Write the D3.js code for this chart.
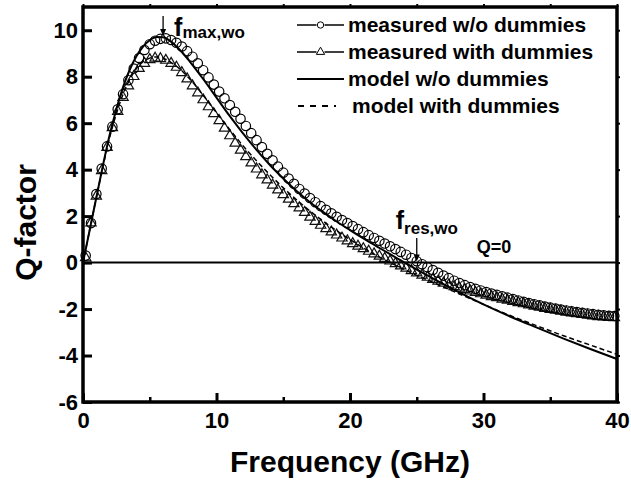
<!DOCTYPE html>
<html>
<head>
<meta charset="utf-8">
<script src="https://cdn.jsdelivr.net/npm/d3@7"></script>
<style>
  html, body { margin: 0; padding: 0; background: #fff; }
  svg { display: block; }
  text { font-family: "Liberation Sans", Arial, sans-serif; font-weight: bold; fill: #000; }
</style>
</head>
<body>
<svg id="chart" width="631" height="484"></svg>
<script>
// Measured sweep: 0.2 GHz to 39.8 GHz in 0.4 GHz steps
const sweepStart = 0.2, sweepStep = 0.4, sweepCount = 100;
const measuredFreq = d3.range(sweepCount).map(i => +(sweepStart + i * sweepStep).toFixed(2));

// Measured Q-factor without dummies (circles)
const qMeasuredWo = [
  0.3, 1.7, 2.95, 4.05, 5.0, 5.85, 6.6, 7.25, 7.85, 8.35,
  8.8, 9.15, 9.4, 9.55, 9.63, 9.65, 9.58, 9.46, 9.3, 9.1,
  8.86, 8.58, 8.28, 7.97, 7.66, 7.36, 7.07, 6.78, 6.49, 6.19,
  5.88, 5.57, 5.27, 4.97, 4.68, 4.4, 4.13, 3.87, 3.62, 3.39,
  3.17, 2.97, 2.78, 2.6, 2.43, 2.27, 2.12, 1.97, 1.83, 1.7,
  1.57, 1.44, 1.31, 1.18, 1.06, 0.94, 0.82, 0.7, 0.58, 0.46,
  0.34, 0.2, 0.06, -0.07, -0.2, -0.32, -0.44, -0.56, -0.67, -0.78,
  -0.88, -0.97, -1.05, -1.13, -1.2, -1.27, -1.33, -1.39, -1.45, -1.51,
  -1.57, -1.63, -1.69, -1.74, -1.79, -1.84, -1.89, -1.94, -1.98, -2.02,
  -2.06, -2.1, -2.13, -2.16, -2.19, -2.22, -2.25, -2.27, -2.29, -2.3
];

// Measured Q-factor with dummies (triangles)
const qMeasuredWith = [
  0.25, 1.75, 2.9, 4.0, 5.0, 5.85, 6.55, 7.15, 7.65, 8.05,
  8.4, 8.62, 8.78, 8.84, 8.82, 8.75, 8.62, 8.45, 8.22, 7.95,
  7.65, 7.35, 7.05, 6.75, 6.45, 6.15, 5.83, 5.5, 5.18, 4.88,
  4.6, 4.33, 4.07, 3.82, 3.6, 3.38, 3.17, 2.97, 2.77, 2.58,
  2.4, 2.2, 2.0, 1.82, 1.65, 1.5, 1.36, 1.23, 1.1, 0.98,
  0.86, 0.75, 0.64, 0.53, 0.42, 0.32, 0.22, 0.11, 0.0, -0.1,
  -0.2, -0.3, -0.4, -0.5, -0.59, -0.68, -0.76, -0.84, -0.92, -0.99,
  -1.06, -1.12, -1.18, -1.24, -1.3, -1.36, -1.42, -1.47, -1.53, -1.58,
  -1.63, -1.68, -1.73, -1.78, -1.83, -1.88, -1.93, -1.97, -2.01, -2.05,
  -2.09, -2.12, -2.16, -2.19, -2.22, -2.25, -2.28, -2.3, -2.32, -2.33
];

// Model curves
const modelFreq = [0, 0.5, 1, 1.5, 2, 2.5, 3, 3.5, 4, 4.5, 5, 5.5, 6, 6.5, 7, 7.5, 8,
  9, 10, 11, 12, 13, 14, 15, 16, 17, 18, 19, 20, 21, 22, 23, 24, 25, 26, 27, 28, 29, 30,
  32, 34, 36, 38, 40];
const qModelWo = [0, 1.4, 2.8, 4.2, 5.5, 6.6, 7.55, 8.3, 8.88, 9.3, 9.57, 9.71, 9.7, 9.55, 9.3, 9.0, 8.65,
  7.9, 7.1, 6.3, 5.55, 4.85, 4.2, 3.62, 3.08, 2.6, 2.17, 1.77, 1.4, 1.04, 0.7, 0.36, 0.03, -0.3, -0.62, -0.93, -1.23, -1.52, -1.8,
  -2.32, -2.8, -3.27, -3.72, -4.15];
const qModelWith = [0, 1.4, 2.8, 4.15, 5.4, 6.4, 7.25, 7.88, 8.35, 8.65, 8.8, 8.85, 8.8, 8.65, 8.45, 8.2, 7.9,
  7.2, 6.45, 5.72, 5.02, 4.38, 3.78, 3.22, 2.7, 2.22, 1.78, 1.37, 0.99, 0.63, 0.3, 0.0, -0.28, -0.55, -0.8, -1.05, -1.3, -1.55, -1.8,
  -2.28, -2.72, -3.15, -3.55, -3.95];

// Axis ticks
const xMajorTicks = [0, 10, 20, 30, 40];
const xMinorTicks = [5, 15, 25, 35];
const yMajorTicks = [-6, -4, -2, 0, 2, 4, 6, 8, 10];

const legendLabels = ["measured w/o dummies", "measured with dummies", "model w/o dummies", "model with dummies"];

const plot = { left: 83, right: 617, top: 7, bottom: 402 };
const x = d3.scaleLinear().domain([0, 40]).range([plot.left, plot.right]);
const y = d3.scaleLinear().domain([-6, 11]).range([plot.bottom, plot.top]);

const svg = d3.select("#chart");

// Horizontal reference line at Q = 0
svg.append("line")
  .attr("x1", x(0)).attr("x2", x(40))
  .attr("y1", y(0)).attr("y2", y(0))
  .attr("stroke", "#000").attr("stroke-width", 2);

const line = d3.line().x(d => x(d[0])).y(d => y(d[1])).curve(d3.curveMonotoneX);

// Measured markers
const gMarkers = svg.append("g");
const circlePts = measuredFreq.map((f, i) => [f, qMeasuredWo[i]]);
const trianglePts = measuredFreq.map((f, i) => [f, qMeasuredWith[i]]);
const tri = d3.symbol().type(d3.symbolTriangle).size(46);

gMarkers.selectAll("path.tri").data(trianglePts).join("path")
  .attr("class", "tri")
  .attr("d", tri)
  .attr("transform", d => `translate(${x(d[0])},${y(d[1]) + 1})`)
  .attr("fill", "none").attr("stroke", "#111").attr("stroke-width", 1.2);

gMarkers.selectAll("circle").data(circlePts).join("circle")
  .attr("cx", d => x(d[0])).attr("cy", d => y(d[1])).attr("r", 4.7)
  .attr("fill", "none").attr("stroke", "#000").attr("stroke-width", 1.2);

// Model lines
svg.append("path")
  .datum(modelFreq.map((f, i) => [f, qModelWith[i]]))
  .attr("d", line).attr("fill", "none")
  .attr("stroke", "#000").attr("stroke-width", 1.5).attr("stroke-dasharray", "5,3");

svg.append("path")
  .datum(modelFreq.map((f, i) => [f, qModelWo[i]]))
  .attr("d", line).attr("fill", "none")
  .attr("stroke", "#000").attr("stroke-width", 2);

// Axes with inward ticks; labels use a plain hyphen for negatives
const plainLabel = d => String(d);
const axisFont = g => g.selectAll("text").style("font-size", "22px").style("font-family", "'Liberation Sans', Arial, sans-serif").style("font-weight", "bold");

svg.append("g").attr("transform", `translate(0,${plot.bottom})`)
  .call(d3.axisBottom(x).tickValues(xMinorTicks).tickSize(-5).tickFormat(""))
  .call(g => g.select(".domain").remove())
  .call(g => g.selectAll("line").attr("stroke-width", 2.5));

svg.append("g").attr("transform", `translate(0,${plot.bottom})`)
  .call(d3.axisBottom(x).tickValues(xMajorTicks).tickSize(-9).tickPadding(10).tickFormat(plainLabel))
  .call(g => g.select(".domain").remove())
  .call(g => g.selectAll("line").attr("stroke-width", 3))
  .call(axisFont);

svg.append("g").attr("transform", `translate(${plot.left},0)`)
  .call(d3.axisLeft(y).tickValues(yMajorTicks).tickSize(-9).tickPadding(5).tickFormat(plainLabel))
  .call(g => g.select(".domain").remove())
  .call(g => g.selectAll("line").attr("stroke-width", 3))
  .call(axisFont);

// Small outward ticks on the top and right edges
svg.append("g").attr("transform", `translate(0,${plot.top})`)
  .call(d3.axisTop(x).tickValues(xMajorTicks.concat(xMinorTicks)).tickSize(3).tickFormat(""))
  .call(g => g.select(".domain").remove())
  .call(g => g.selectAll("line").attr("stroke-width", 2));

svg.append("g").attr("transform", `translate(${plot.right},0)`)
  .call(d3.axisRight(y).tickValues(yMajorTicks).tickSize(3).tickFormat(""))
  .call(g => g.select(".domain").remove())
  .call(g => g.selectAll("line").attr("stroke-width", 2));

// Frame
svg.append("rect")
  .attr("x", plot.left).attr("y", plot.top)
  .attr("width", plot.right - plot.left).attr("height", plot.bottom - plot.top)
  .attr("fill", "none").attr("stroke", "#000").attr("stroke-width", 3.5);

// Axis titles
svg.append("text")
  .attr("x", (plot.left + plot.right) / 2).attr("y", 472)
  .attr("text-anchor", "middle").style("font-size", "30px")
  .text("Frequency (GHz)");

svg.append("text")
  .attr("transform", `translate(36,${(plot.top + plot.bottom) / 2 + 18}) rotate(-90)`)
  .attr("text-anchor", "middle").style("font-size", "30px")
  .text("Q-factor");

// Annotations
function arrowDown(xp, y1, y2) {
  svg.append("line").attr("x1", xp).attr("x2", xp).attr("y1", y1).attr("y2", y2 - 5)
    .attr("stroke", "#000").attr("stroke-width", 1.3);
  svg.append("path")
    .attr("d", `M${xp - 3},${y2 - 7} L${xp + 3},${y2 - 7} L${xp},${y2} Z`)
    .attr("fill", "#000");
}
const fMaxWo = 6.0, fResWo = 25.0;
arrowDown(x(fMaxWo), 16, y(9.75));
const tMax = svg.append("text").attr("x", x(fMaxWo) + 11).attr("y", 36).style("font-size", "25px");
tMax.append("tspan").text("f");
tMax.append("tspan").attr("dy", 2).style("font-size", "17px").text("max,wo");

arrowDown(x(fResWo), 238, y(0) - 1);
const tRes = svg.append("text").attr("x", x(fResWo) - 21).attr("y", 229).style("font-size", "25px");
tRes.append("tspan").text("f");
tRes.append("tspan").attr("dy", 5).style("font-size", "17px").text("res,wo");

svg.append("text").attr("x", 494).attr("y", 253).attr("text-anchor", "middle")
  .style("font-size", "18px").text("Q=0");

// Legend
const legend = svg.append("g");
const rowY = [25, 52, 79, 106];
const lx0 = 297, lx1 = 344, ltext = 348;
rowY.forEach((ry, i) => {
  if (i === 3) {
    legend.append("line").attr("x1", lx0 + 1).attr("x2", lx1 - 8).attr("y1", ry).attr("y2", ry)
      .attr("stroke", "#000").attr("stroke-width", 2).attr("stroke-dasharray", "6,6");
  } else if (i === 2) {
    legend.append("line").attr("x1", lx0).attr("x2", lx1).attr("y1", ry).attr("y2", ry)
      .attr("stroke", "#000").attr("stroke-width", 2);
  } else {
    legend.append("line").attr("x1", lx0).attr("x2", (lx0 + lx1) / 2 - 4).attr("y1", ry).attr("y2", ry)
      .attr("stroke", "#000").attr("stroke-width", 1.5);
    legend.append("line").attr("x1", (lx0 + lx1) / 2 + 4).attr("x2", lx1).attr("y1", ry).attr("y2", ry)
      .attr("stroke", "#000").attr("stroke-width", 1.5);
    if (i === 0) {
      legend.append("circle").attr("cx", (lx0 + lx1) / 2).attr("cy", ry).attr("r", 3.2)
        .attr("fill", "none").attr("stroke", "#000").attr("stroke-width", 1);
    } else {
      legend.append("path").attr("d", d3.symbol().type(d3.symbolTriangle).size(30))
        .attr("transform", `translate(${(lx0 + lx1) / 2},${ry})`)
        .attr("fill", "none").attr("stroke", "#000").attr("stroke-width", 1);
    }
  }
  legend.append("text").attr("x", i === 3 ? ltext + 4 : ltext).attr("y", ry + 7)
    .style("font-size", "21px").text(legendLabels[i]);
});
</script>
</body>
</html>
